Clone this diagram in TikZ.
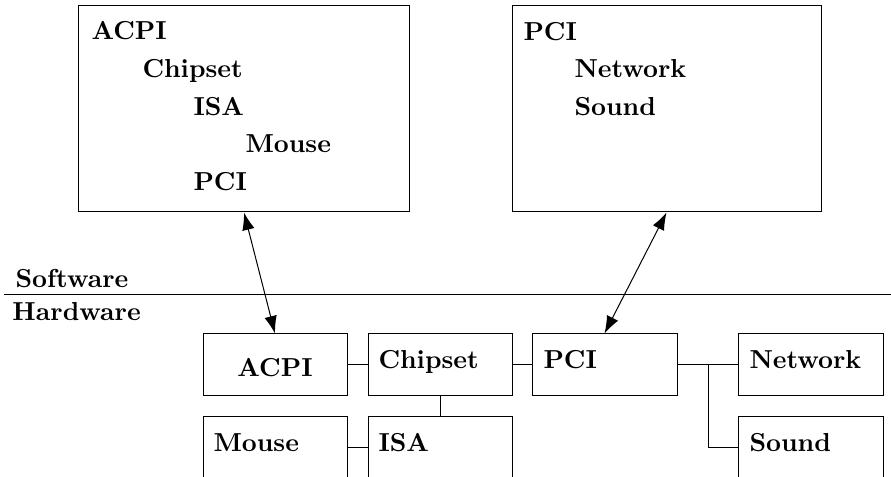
\documentclass[tikz,border=0pt]{standalone}
\usetikzlibrary{arrows.meta}
\begin{document}
\begin{tikzpicture}[x=0.4pt,y=-0.4pt,font=\fontsize{10.4}{12.5}\selectfont\bfseries,line width=0.4pt,
  bigbox/.style={draw,rectangle,inner sep=0pt,minimum height=82.4pt},
  hwbox/.style={draw,rectangle,inner sep=0pt,minimum width=57.6pt,minimum height=24.8pt},
  lbl/.style={inner sep=0pt,anchor=base west},
  link/.style={draw},
  swarrow/.style={draw,{Latex[length=7pt,width=5pt]}-{Latex[length=7pt,width=5pt]}}]
\useasboundingbox (0,0) rectangle (891,477);
\clip (0,0) rectangle (891,477);
% software boxes
\node[bigbox,minimum width=132pt] (swleft) at (244,109) {};
\node[bigbox,minimum width=123.6pt] (swright) at (666.5,109) {};
\node[lbl] (tacpi) at (91,40) {ACPI};
\node[lbl] (tchip) at (142,78) {Chipset};
\node[lbl] (tisa) at (193,116) {ISA};
\node[lbl] (tmouse) at (245,153) {Mouse};
\node[lbl] (tpci) at (193,191) {PCI};
\node[lbl] (rpci) at (523,41) {PCI};
\node[lbl] (rnet) at (574,78) {Network};
\node[lbl] (rsound) at (574,116) {Sound};
% divider
\node[lbl] (software) at (15,288) {Software};
\node[lbl] (hardware) at (12,321) {Hardware};
\coordinate (divl) at (4,295);
\coordinate (divr) at (891,295);
\draw (divl) -- (divr);
% hardware boxes
\node[hwbox] (hwacpi) at (275,365) {};
\node[hwbox] (hwchip) at (440,365) {};
\node[hwbox,minimum width=58pt] (hwpci) at (604.5,365) {};
\node[hwbox,minimum width=58pt] (hwnet) at (810.5,365) {};
\node[hwbox] (hwmouse) at (275,448) {};
\node[hwbox] (hwisa) at (440,448) {};
\node[hwbox,minimum width=58pt] (hwsound) at (810.5,448) {};
\node[inner sep=0pt,anchor=base] (lacpi) at (275,377) {ACPI};
\node[lbl] (lchip) at (378,369) {Chipset};
\node[lbl] (lpci) at (543,369) {PCI};
\node[lbl] (lnet) at (749,369) {Network};
\node[lbl] (lmouse) at (213,452) {Mouse};
\node[lbl] (lisa) at (378,452) {ISA};
\node[lbl] (lsound) at (749,452) {Sound};
% connectors
\draw[link] (hwacpi.east) -- (hwchip.west);
\draw[link] (hwchip.east) -- (hwpci.west);
\draw[link] (hwchip.south) -- (hwisa.north);
\draw[link] (hwmouse.east) -- (hwisa.west);
\draw[link] (hwpci.east) -- (hwnet.west);
\coordinate (branch) at (708,365);
\draw[link] (branch) |- (hwsound.west);
% arrows
\draw[swarrow] (swleft.south) -- (hwacpi.north);
\draw[swarrow] (swright.south) -- (hwpci.north);
\end{tikzpicture}
\end{document}
